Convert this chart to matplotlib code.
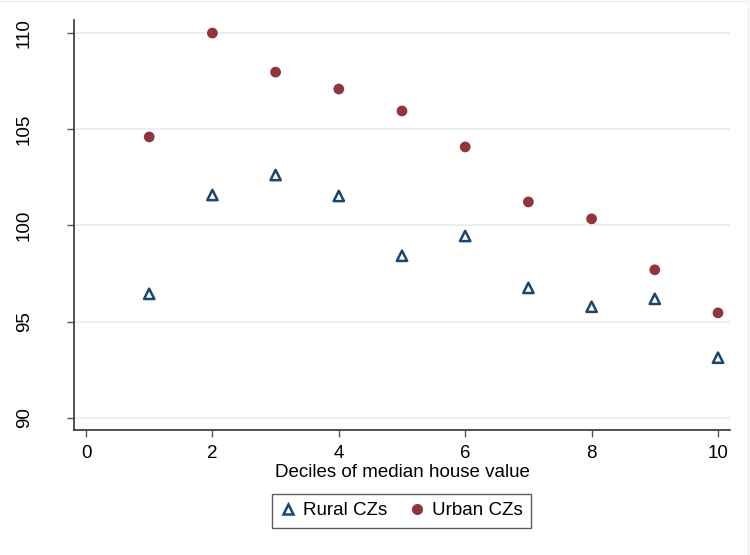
import matplotlib
matplotlib.use("Agg")
import matplotlib.pyplot as plt
from matplotlib.lines import Line2D

deciles = [1, 2, 3, 4, 5, 6, 7, 8, 9, 10]
rural = [96.44, 101.58, 102.62, 101.53, 98.42, 99.45, 96.75, 95.77, 96.18, 93.12]
urban = [104.6, 110.0, 107.97, 107.09, 105.95, 104.08, 101.22, 100.34, 97.69, 95.45]
xticks = [0, 2, 4, 6, 8, 10]
yticks = [90, 95, 100, 105, 110]

plt.rcParams['font.family'] = ['Liberation Sans', 'DejaVu Sans']

fig = plt.figure(figsize=(7.5, 5.55), dpi=100)
ax = fig.add_axes([74/750, 1-430/555, (730-74)/750, (430-20)/555])

for y in yticks:
    ax.axhline(y, color='#e6eff3', lw=1.3, zorder=0)

navy = '#1a476f'
maroon = '#90353b'
ax.scatter(deciles, rural, marker='^', s=55, facecolors='none', edgecolors=navy, linewidths=1.8, zorder=3)
ax.scatter(deciles, urban, marker='o', s=60, color=maroon, edgecolors='none', zorder=3)

ax.set_xlim(-0.19, 10.19)
ax.set_ylim(89.36, 110.68)
ax.set_xticks(xticks)
ax.set_yticks(yticks)
ax.set_yticklabels([str(v) for v in yticks], rotation=90, va='center')
ax.tick_params(axis='both', length=5, width=1, color='#555555', labelsize=13.5)
ax.tick_params(axis='x', pad=5.5)
ax.tick_params(axis='y', pad=24.5)
for s in ['top', 'right']:
    ax.spines[s].set_visible(False)
for s in ['left', 'bottom']:
    ax.spines[s].set_color('#333333')
    ax.spines[s].set_linewidth(1.2)
ax.set_xlabel('Deciles of median house value', fontsize=13.5, labelpad=2)

handles = [
    Line2D([], [], marker='^', ls='none', markersize=7.5, markerfacecolor='none', markeredgecolor=navy, markeredgewidth=1.8, label='Rural CZs'),
    Line2D([], [], marker='o', ls='none', markersize=8, color=maroon, markeredgecolor='none', label='Urban CZs'),
]
leg = fig.legend(handles=handles, loc='center', bbox_to_anchor=(401.5/750, 1-510.5/555), ncol=2,
                 frameon=True, fancybox=False, edgecolor='#333333', fontsize=13.5,
                 handletextpad=0.4, columnspacing=1.2, borderpad=0.45, borderaxespad=0,
                 handlelength=0.8)
leg.get_frame().set_linewidth(1.0)

# faint outer frame as in reference
fig.add_artist(plt.Line2D([0, 748/750], [1-0.5/555, 1-0.5/555], transform=fig.transFigure, color='#eef1f3', lw=1))
fig.add_artist(plt.Line2D([748/750, 748/750], [0, 1], transform=fig.transFigure, color='#eef1f3', lw=1))

fig.savefig('out.png', dpi=100, facecolor='white')
